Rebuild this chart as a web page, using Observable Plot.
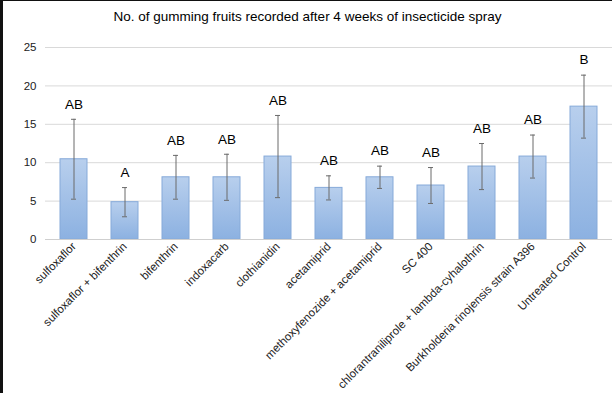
<!DOCTYPE html>
<html><head><meta charset="utf-8">
<script src="https://cdn.jsdelivr.net/npm/d3@7"></script>
<script src="https://cdn.jsdelivr.net/npm/@observablehq/plot@0.6"></script>
<style>
html,body{margin:0;padding:0;background:#111;width:612px;height:393px;overflow:hidden;}
#wrap{position:absolute;left:3px;top:1px;width:609px;height:392px;background:#fff;overflow:hidden;}
#title{font:13.5px "Liberation Sans",Arial,sans-serif;color:#000;text-align:center;height:34px;line-height:32px;white-space:nowrap;}
</style></head>
<body><div id="wrap"><div id="title">No. of gumming fruits recorded after 4 weeks of insecticide spray</div><div id="chart"></div></div>
<script>
const categories = ["sulfoxaflor","sulfoxaflor + bifenthrin","bifenthrin","indoxacarb","clothianidin","acetamiprid","methoxyfenozide + acetamiprid","SC 400","chlorantraniliprole + lambda-cyhalothrin","Burkholderia rinojensis strain A396","Untreated Control"];
const means = [10.45, 4.86, 8.1, 8.1, 10.8, 6.72, 8.1, 7.03, 9.5, 10.8, 17.3];
const errors = [5.2, 1.9, 2.85, 3.0, 5.35, 1.57, 1.45, 2.34, 3.0, 2.8, 4.1];
const letters = ["AB","A","AB","AB","AB","AB","AB","AB","AB","AB","B"];
const yTicks = [0, 5, 10, 15, 20, 25];

const data = categories.map((c, i) => ({cat: c, mean: means[i], lo: means[i] - errors[i], hi: means[i] + errors[i], letter: letters[i]}));

const gradient = () => {
  const defs = d3.create("svg:defs");
  const g = defs.append("linearGradient").attr("id", "barGrad").attr("x1", 0).attr("y1", 0).attr("x2", 0).attr("y2", 1);
  g.append("stop").attr("offset", "0%").attr("stop-color", "#b8cfed");
  g.append("stop").attr("offset", "100%").attr("stop-color", "#8cb1e1");
  return defs.node();
};

const chart = Plot.plot({
  width: 609,
  height: 358,
  marginTop: 12,
  marginBottom: 154,
  marginLeft: 42,
  marginRight: 0,
  style: {fontFamily: "'Liberation Sans', Arial, sans-serif", fontSize: "11px", color: "#222", background: "transparent"},
  x: {domain: categories, paddingInner: 0.476, paddingOuter: 0.243, label: null},
  y: {domain: [0, 25], label: null},
  marks: [
    gradient,
    Plot.gridY(yTicks, {stroke: "#d9d9d9", strokeOpacity: 1}),
    Plot.barY(data, {x: "cat", y: "mean", fill: "url(#barGrad)", stroke: "#86aad9", strokeWidth: 1}),
    Plot.ruleY([0], {stroke: "#cfcfcf"}),
    Plot.ruleX(data, {x: "cat", y1: "lo", y2: "hi", stroke: "#6b6b6b", strokeWidth: 1}),
    Plot.tickY(data, {x: "cat", y: "lo", stroke: "#6b6b6b", insetLeft: 11, insetRight: 11}),
    Plot.tickY(data, {x: "cat", y: "hi", stroke: "#6b6b6b", insetLeft: 11, insetRight: 11}),
    Plot.text(data, {x: "cat", y: "hi", text: "letter", dy: -15, fontSize: 13.5, fill: "#000"}),
    Plot.axisY({ticks: yTicks, tickSize: 0, tickPadding: 9, fontSize: 11.5, label: null}),
    Plot.axisX({tickRotate: -45, tickSize: 0, tickPadding: 5, fontSize: 11.5, label: null})
  ]
});
document.getElementById("chart").appendChild(chart);
</script>
</body></html>
